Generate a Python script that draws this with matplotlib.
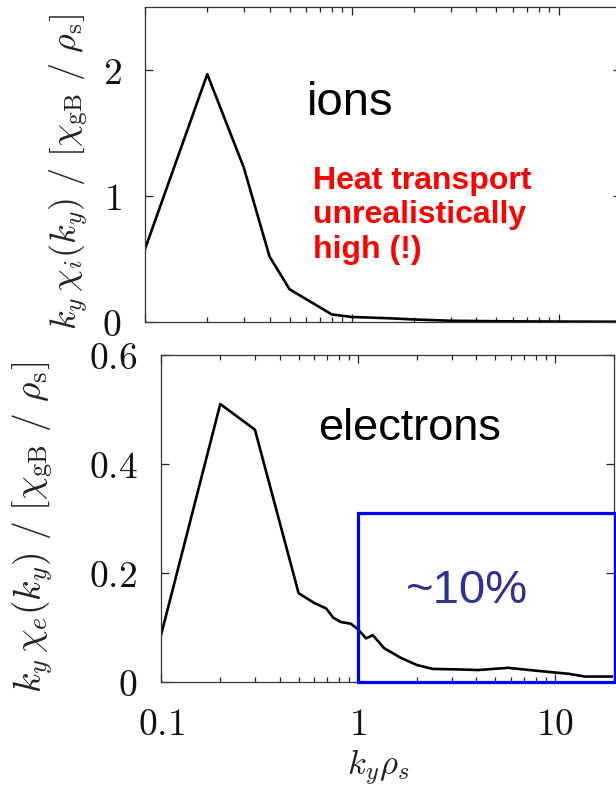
import matplotlib
matplotlib.use('Agg')
import matplotlib.pyplot as plt
from matplotlib.patches import Rectangle
from matplotlib.ticker import LogLocator, NullFormatter, FixedLocator, FixedFormatter

plt.rcParams['mathtext.fontset'] = 'cm'

# ion heat flux spectrum
k_ion = [0.1, 0.2, 0.3, 0.4, 0.5, 0.8, 1.0, 1.5, 2.0, 3.0, 5.0, 8.0, 12.0, 20.0]
chi_ion = [0.58, 1.97, 1.23, 0.52, 0.26, 0.06, 0.04, 0.03, 0.02, 0.01,
           0.006, 0.004, 0.003, 0.002]

# electron heat flux spectrum
k_el = [0.1, 0.2, 0.3, 0.5, 0.6, 0.69, 0.75, 0.82, 0.92, 1.0, 1.1, 1.19,
        1.36, 1.66, 2.0, 2.4, 3.3, 4.1, 5.8, 7.9, 11.8, 14.2, 19.5]
chi_el = [0.086, 0.51, 0.463, 0.163, 0.145, 0.135, 0.118, 0.11, 0.107,
          0.097, 0.08, 0.086, 0.062, 0.044, 0.031, 0.024, 0.023, 0.022,
          0.026, 0.021, 0.015, 0.01, 0.01]

ion_ticks = [0, 1, 2]
ion_tick_labels = ['$0$', '$1$', '$2$']
el_ticks = [0, 0.2, 0.4, 0.6]
el_tick_labels = ['$0$', '$0.2$', '$0.4$', '$0.6$']
x_ticks = [0.1, 1, 10]
x_tick_labels = ['$0.1$', '$1$', '$10$']

box_k = (1.0, 20.2)
box_top = 0.31

W, H = 616, 789
fig = plt.figure(figsize=(W / 100, H / 100), dpi=100)

ax1 = fig.add_axes([145 / W, 1 - 322 / H, (621 - 145) / W, (322 - 7.5) / H])
ax2 = fig.add_axes([161 / W, 1 - 682 / H, (614 - 161) / W, (682 - 355) / H])

TICK_SIZE = 27

for ax in (ax1, ax2):
    ax.set_xscale('log')
    ax.set_xlim(0.1, 20)
    for s in ax.spines.values():
        s.set_linewidth(0.9)
        s.set_color('#333333')
    ax.xaxis.set_major_locator(FixedLocator(x_ticks))
    ax.xaxis.set_minor_locator(LogLocator(base=10, subs=range(2, 10)))
    ax.xaxis.set_minor_formatter(NullFormatter())
    ax.tick_params(which='both', direction='in', top=True, right=True,
                   color='#222222', width=0.9, labelsize=TICK_SIZE,
                   labelcolor='#111111')
    ax.tick_params(which='major', length=6, pad=17)
    ax.tick_params(which='minor', length=3.5)
    ax.tick_params(axis='x', which='major', pad=18)

ax1.plot(k_ion, chi_ion, color='black', lw=1.9)
ax1.set_ylim(0, 2.5)
ax1.set_yticks(ion_ticks)
ax1.set_yticklabels(ion_tick_labels)
ax1.set_xticklabels([])
ax1.set_ylabel(r'$k_y\,\chi_i(k_y)\ /\ [\chi_{\rm gB}\ /\ \rho_{\rm s}]$',
               fontsize=26, color='#222222')
ax1.yaxis.set_label_coords(-0.116, 0.477)

ax2.plot(k_el, chi_el, color='black', lw=1.9)
ax2.set_ylim(0, 0.6)
ax2.set_yticks(el_ticks)
ax2.set_yticklabels(el_tick_labels)
ax2.xaxis.set_major_formatter(FixedFormatter(x_tick_labels))
ax2.set_ylabel(r'$k_y\,\chi_e(k_y)\ /\ [\chi_{\rm gB}\ /\ \rho_{\rm s}]$',
               fontsize=27, color='#222222')
ax2.yaxis.set_label_coords(-0.234, 0.474)
ax2.set_xlabel(r'$k_y\rho_s$', fontsize=25, color='#222222')
ax2.xaxis.set_label_coords(0.479, -0.203)

# annotations
fig.text(307 / W, 1 - 115 / H, 'ions', family='Liberation Sans', fontsize=34,
         va='baseline', ha='left')
fig.text(313 / W, 1 - 258 / H, 'Heat transport\nunrealistically\nhigh (!)',
         family='Liberation Sans', fontweight='bold', fontsize=23,
         color='#ff0000', va='baseline', ha='left', linespacing=1.2)
fig.text(318 / W, 1 - 440 / H, 'electrons', family='Liberation Sans',
         fontsize=32.5, va='baseline', ha='left')

ax2.add_patch(Rectangle((box_k[0], 0), box_k[1] - box_k[0], box_top,
                        fill=False, edgecolor='#0000ff', lw=2.3, clip_on=False,
                        zorder=5))
fig.text(406 / W, 1 - 603 / H, '~10%', family='Liberation Sans', fontsize=34,
         color='#2e3192', va='baseline', ha='left')

fig.savefig('out.png', dpi=100)
